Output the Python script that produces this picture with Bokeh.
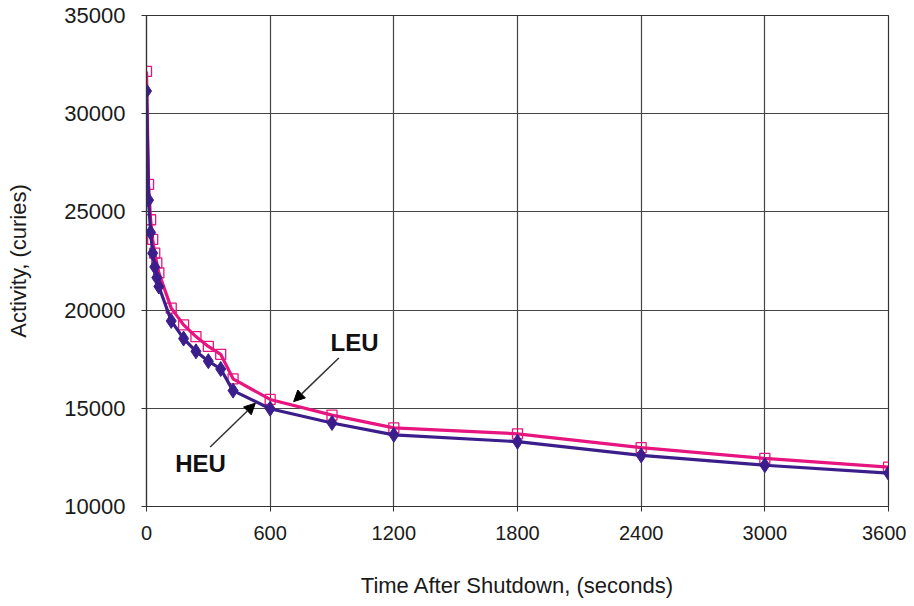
from bokeh.plotting import figure
from bokeh.models import Range1d, FixedTicker, Arrow, NormalHead, Label
from bokeh.embed import file_html
from bokeh.resources import INLINE

# Data
time_s = [0, 10, 20, 30, 40, 50, 60, 120, 180, 240, 300, 360, 420,
          600, 900, 1200, 1800, 2400, 3000, 3600]
heu = [31150, 25600, 23950, 22900, 22200, 21650, 21200, 19450, 18550, 17900,
       17400, 17000, 15900, 14980, 14250, 13650, 13300, 12600, 12100, 11700]
leu = [32150, 26400, 24600, 23600, 22900, 22400, 21900, 20100, 19250, 18650,
       18150, 17750, 16500, 15450, 14650, 14000, 13700, 13000, 12450, 12000]
x_ticks = [0, 600, 1200, 1800, 2400, 3000, 3600]
y_ticks = [10000, 15000, 20000, 25000, 30000, 35000]

HEU_COLOR = "#3B1E8C"
LEU_COLOR = "#E6157F"
FONT = "Liberation Sans"

p = figure(width=906, height=604, output_backend="svg", toolbar_location=None,
           x_range=Range1d(0, 3600), y_range=Range1d(10000, 35000),
           min_border_left=146, min_border_right=18, min_border_top=15,
           min_border_bottom=98)

p.background_fill_color = "white"
p.border_fill_color = "white"
p.outline_line_color = "#333333"
p.outline_line_width = 1.2

p.xaxis.ticker = FixedTicker(ticks=x_ticks)
p.yaxis.ticker = FixedTicker(ticks=y_ticks)
p.xaxis.minor_tick_line_color = None
p.yaxis.minor_tick_line_color = None
p.yaxis.formatter.use_scientific = False

for ax in (p.xaxis, p.yaxis):
    ax.axis_line_color = "#333333"
    ax.axis_line_width = 1.2
    ax.major_tick_line_color = "#333333"
    ax.major_tick_in = 0
    ax.major_tick_out = 5
    ax.major_label_text_font = FONT
    ax.major_label_text_color = "#1a1a1a"
    ax.axis_label_text_font = FONT
    ax.axis_label_text_font_style = "normal"
    ax.axis_label_text_color = "#1a1a1a"

p.xaxis.major_label_text_font_size = "20px"
p.yaxis.major_label_text_font_size = "22px"
p.xaxis.major_label_standoff = 14
p.yaxis.major_label_standoff = 16
p.xaxis.axis_label = "Time After Shutdown, (seconds)"
p.yaxis.axis_label = "Activity, (curies)"
p.xaxis.axis_label_text_font_size = "22px"
p.yaxis.axis_label_text_font_size = "22px"
p.xaxis.axis_label_standoff = 30
p.yaxis.axis_label_standoff = 30

p.xgrid.grid_line_color = "#444444"
p.ygrid.grid_line_color = "#444444"
p.xgrid.grid_line_width = 1.2
p.ygrid.grid_line_width = 1.2

# LEU series
p.line(time_s, leu, line_color=LEU_COLOR, line_width=3.2)
p.scatter(time_s, leu, marker="square", size=10, fill_color=None,
          line_color=LEU_COLOR, line_width=1.3)

# HEU series
p.line(time_s, heu, line_color=HEU_COLOR, line_width=3.2)
p.scatter(time_s, heu, marker="diamond", size=15, fill_color=HEU_COLOR,
          line_color=HEU_COLOR)

# Annotations
p.add_layout(Label(x=1009, y=18370, text="LEU", text_font=FONT,
                   text_font_size="24px", text_font_style="bold",
                   text_align="center", text_baseline="middle",
                   text_color="#111111"))
p.add_layout(Label(x=262, y=12200, text="HEU", text_font=FONT,
                   text_font_size="24px", text_font_style="bold",
                   text_align="center", text_baseline="middle",
                   text_color="#111111"))
p.add_layout(Arrow(x_start=933, y_start=17560, x_end=714, y_end=15340,
                   line_color="#333333", line_width=1.5,
                   end=NormalHead(size=11, fill_color="black", line_color="black")))
p.add_layout(Arrow(x_start=309, y_start=13030, x_end=528, y_end=15260,
                   line_color="#333333", line_width=1.5,
                   end=NormalHead(size=11, fill_color="black", line_color="black")))

open("out.html", "w").write(file_html(p, INLINE))
